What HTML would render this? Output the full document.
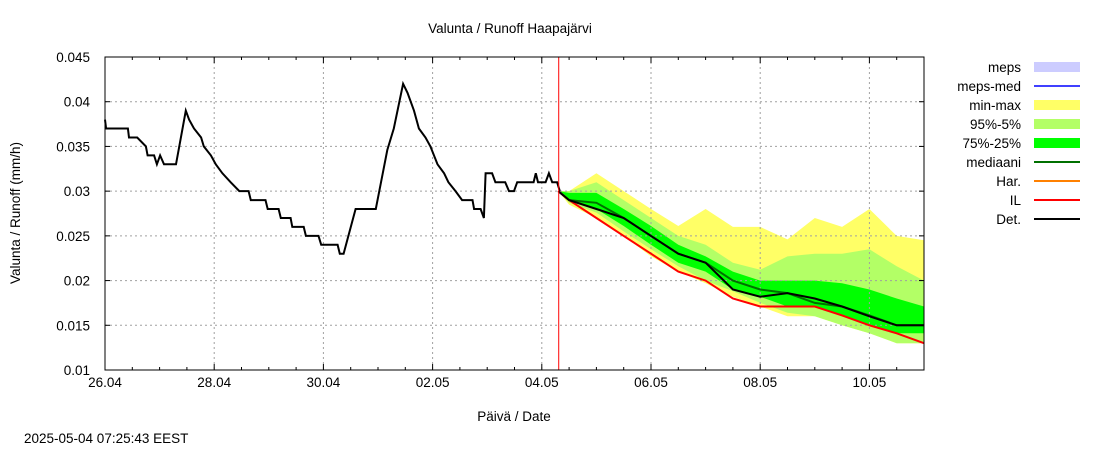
<!DOCTYPE html>
<html><head><meta charset="utf-8"><style>
body{margin:0;background:#fff;}
svg text{font-family:"Liberation Sans",sans-serif;font-size:13.5px;fill:#000;}
</style></head><body>
<svg id="chart" width="1100" height="450" xmlns="http://www.w3.org/2000/svg">
<rect width="1100" height="450" fill="#fff"/>
<g id="bands"></g><g id="grid"></g><g id="lines"></g><g id="axes"></g><g id="legend"></g>
<text x="510" y="33" text-anchor="middle">Valunta / Runoff  Haapajärvi</text>
<text x="514" y="421" text-anchor="middle">Päivä / Date</text>
<text transform="translate(20,213) rotate(-90)" text-anchor="middle">Valunta / Runoff (mm/h)</text>
<text x="24" y="443">2025-05-04 07:25:43 EEST</text>
</svg>
<script>
const xTickLabels=["26.04","28.04","30.04","02.05","04.05","06.05","08.05","10.05"];
const yTicks=[0.01,0.015,0.02,0.025,0.03,0.035,0.04,0.045];
const yTickLabels=["0.01","0.015","0.02","0.025","0.03","0.035","0.04","0.045"];
const obsDays=[0,0.02,0.42,0.44,0.59,0.75,0.78,0.90,0.95,1.01,1.08,1.30,1.48,1.54,1.63,1.76,1.81,1.94,2.03,2.15,2.30,2.46,2.63,2.67,2.94,2.98,3.18,3.22,3.40,3.43,3.64,3.68,3.91,3.96,4.26,4.30,4.37,4.59,4.96,5.17,5.29,5.46,5.54,5.66,5.75,5.87,5.96,6.09,6.21,6.29,6.42,6.54,6.73,6.76,6.88,6.94,6.97,7.09,7.15,7.33,7.40,7.49,7.55,7.85,7.89,7.93,8.07,8.13,8.19,8.28,8.33];
const obsVals=[0.038,0.037,0.037,0.036,0.036,0.035,0.034,0.034,0.033,0.034,0.033,0.033,0.039,0.038,0.037,0.036,0.035,0.034,0.033,0.032,0.031,0.030,0.030,0.029,0.029,0.028,0.028,0.027,0.027,0.026,0.026,0.025,0.025,0.024,0.024,0.023,0.023,0.028,0.028,0.0346,0.037,0.042,0.041,0.039,0.037,0.036,0.035,0.033,0.032,0.031,0.030,0.029,0.029,0.028,0.028,0.027,0.032,0.032,0.031,0.031,0.030,0.030,0.031,0.031,0.032,0.031,0.031,0.032,0.031,0.031,0.030];
const fcDays=[8.3,8.5,9,9.5,10,10.5,11,11.5,12,12.5,13,13.5,14,14.5,15];
const fcMax=[0.030,0.030,0.032,0.030,0.028,0.0261,0.028,0.026,0.026,0.0246,0.027,0.026,0.028,0.025,0.0245];
const fcP95=[0.030,0.030,0.031,0.029,0.027,0.025,0.024,0.022,0.0212,0.0227,0.023,0.023,0.0235,0.0216,0.020];
const fcP75=[0.030,0.0298,0.0298,0.028,0.0261,0.024,0.0227,0.021,0.020,0.020,0.020,0.0197,0.019,0.018,0.0171];
const fcMed=[0.030,0.029,0.0287,0.027,0.025,0.023,0.022,0.020,0.019,0.0186,0.0175,0.0171,0.0161,0.015,0.015];
const fcP25=[0.030,0.0289,0.028,0.0261,0.024,0.022,0.021,0.019,0.0182,0.0171,0.0171,0.0161,0.015,0.0141,0.0141];
const fcP5=[0.030,0.0287,0.0276,0.0255,0.0235,0.0216,0.020,0.0188,0.0175,0.0164,0.016,0.015,0.0141,0.013,0.013];
const fcMin=[0.030,0.0285,0.027,0.025,0.0227,0.021,0.0197,0.0182,0.0171,0.016,0.016,0.015,0.0141,0.013,0.013];
const fcIL=[0.030,0.029,0.027,0.025,0.023,0.021,0.020,0.018,0.0171,0.0171,0.0171,0.0161,0.015,0.0141,0.013];
const fcDet=[0.030,0.029,0.028,0.027,0.025,0.023,0.022,0.019,0.0182,0.0186,0.018,0.0171,0.016,0.015,0.015];
const nowDay=8.31;

const X0=105,X1=924,Y0=370,Y1=57,D=15;
const sx=d=>X0+d*(X1-X0)/D;
const sy=v=>Y0-(v-0.01)/(0.035)*(Y0-Y1);
const NS="http://www.w3.org/2000/svg";
function mk(parent,tag,attrs){const e=document.createElementNS(NS,tag);for(const k in attrs)e.setAttribute(k,attrs[k]);document.getElementById(parent).appendChild(e);return e;}
function pts(ds,vs){return ds.map((d,i)=>sx(d).toFixed(1)+","+sy(vs[i]).toFixed(1));}
function band(top,bot,color,name){
  const p=pts(fcDays,top).concat(pts(fcDays,bot).reverse()).join(" ");
  const e=mk("bands","polygon",{points:p,fill:color});
  
  
}
band(fcMax,fcMin,"#ffff66","band-min-max");
band(fcP95,fcP5,"#b3ff66","band-95-5");
band(fcP75,fcP25,"#00ff00","band-75-25");
for(let i=0;i<8;i++){
  const x=sx(i*2);
  if(i>0){const g=mk("grid","line",{x1:x,x2:x,y1:Y1,y2:Y0,stroke:"#a0a0a0","stroke-dasharray":"2,3"});
  }
  const t=mk("axes","text",{x:x,y:Y0+17,"text-anchor":"middle"});t.textContent=xTickLabels[i];
  
}
yTicks.forEach((v,i)=>{
  const y=sy(v);
  if(i>0&&i<7){const g=mk("grid","line",{x1:X0,x2:X1,y1:y,y2:y,stroke:"#a0a0a0","stroke-dasharray":"2,3"});
  }
  mk("axes","line",{x1:X0,x2:X0+5,y1:y,y2:y,stroke:"#000"});
  mk("axes","line",{x1:X1-5,x2:X1,y1:y,y2:y,stroke:"#000"});
  const t=mk("axes","text",{x:90,y:y+5,"text-anchor":"end"});t.textContent=yTickLabels[i];
  
});
for(let h=1;h<30;h++){const x=sx(h/2);const L=h%4==0?6:3;
  mk("axes","line",{x1:x,x2:x,y1:Y0,y2:Y0-L,stroke:"#000"});mk("axes","line",{x1:x,x2:x,y1:Y1,y2:Y1+L,stroke:"#000"});}
function line(ds,vs,color,w,name){
  const e=mk("lines","polyline",{points:pts(ds,vs).join(" "),fill:"none",stroke:color,"stroke-width":w});
  
}
line(fcDays,fcMed,"#007000",2,"median-line");
line(fcDays,fcIL,"#ff0000",2,"il-line");
line(fcDays,fcDet,"#000",2,"det-line");
line(obsDays,obsVals,"#000",2,"observed-line");
const nl=mk("lines","line",{x1:sx(nowDay),x2:sx(nowDay),y1:Y1,y2:Y0,stroke:"#ff0000","stroke-width":1});

const fr=mk("axes","rect",{x:X0,y:Y1,width:X1-X0,height:Y0-Y1,fill:"none",stroke:"#000"});

const legLabels=["meps","meps-med","min-max","95%-5%","75%-25%","mediaani","Har.","IL","Det."];
const legColors=["#ccccff","#4040ff","#ffff66","#b3ff66","#00ff00","#007000","#ff8000","#ff0000","#000000"];
const legType=["box","line","box","box","box","line","line","line","line"];
legLabels.forEach((l,i)=>{
  const y=67+i*19;
  const t=mk("legend","text",{x:1021,y:y+5,"text-anchor":"end"});t.textContent=l;
  
  let s;
  if(legType[i]=="box") s=mk("legend","rect",{x:1034,y:y-5,width:46,height:10,fill:legColors[i]});
  else s=mk("legend","line",{x1:1034,x2:1080,y1:y,y2:y,stroke:legColors[i],"stroke-width":2});
  
});
</script>
</body></html>
